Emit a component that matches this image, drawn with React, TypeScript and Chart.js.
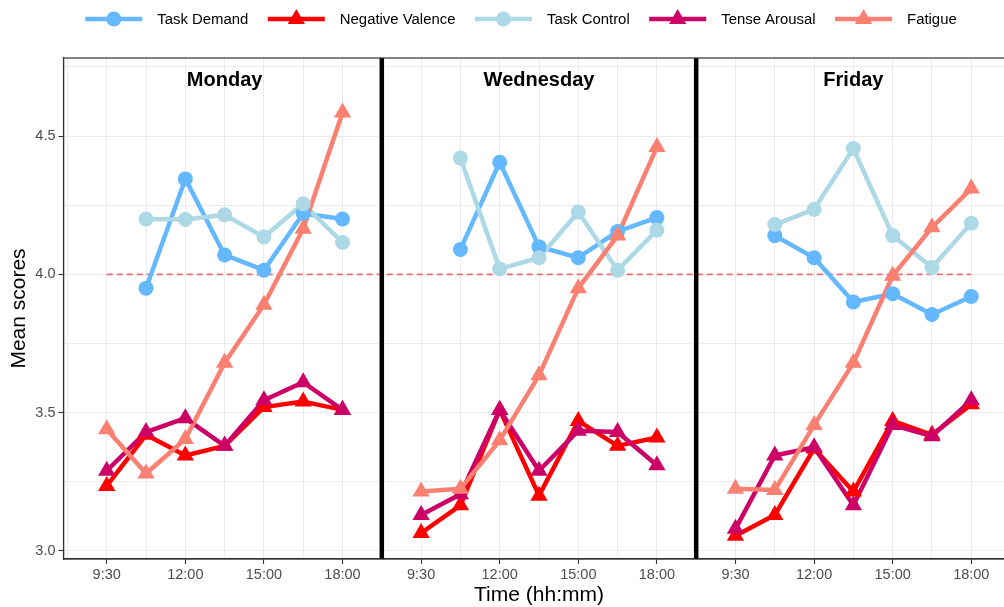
import React, { useEffect, useRef } from 'react';
import { Chart, registerables } from 'chart.js';

Chart.register(...registerables);

// Facet layout along one continuous slot axis
const days = ['Monday', 'Wednesday', 'Friday'];
const timeLabels = ['9:30', '12:00', '15:00', '18:00'];
const slotsPerDay = 7; // measurement slots per day, every other one labelled
const dayStride = 8; // one spare slot between days holds the separator

// Mean scores per day (Monday, Wednesday, Friday), one value per slot
const taskDemand = [
  [null, 3.95, 4.345, 4.07, 4.015, 4.22, 4.2],
  [null, 4.09, 4.405, 4.1, 4.06, 4.155, 4.205],
  [null, 4.14, 4.06, 3.9, 3.93, 3.855, 3.92],
];
const negativeValence = [
  [3.235, 3.42, 3.345, 3.38, 3.52, 3.54, 3.51],
  [3.065, 3.165, 3.51, 3.2, 3.47, 3.38, 3.41],
  [3.055, 3.13, 3.37, 3.215, 3.47, 3.42, 3.53],
];
const taskControl = [
  [null, 4.2, 4.198, 4.215, 4.135, 4.255, 4.115],
  [null, 4.42, 4.02, 4.06, 4.225, 4.015, 4.16],
  [null, 4.18, 4.235, 4.455, 4.14, 4.025, 4.185],
];
const tenseArousal = [
  [3.29, 3.43, 3.48, 3.38, 3.545, 3.61, 3.51],
  [3.13, 3.205, 3.51, 3.29, 3.435, 3.43, 3.31],
  [3.08, 3.345, 3.375, 3.165, 3.455, 3.415, 3.545],
];
const fatigue = [
  [3.44, 3.28, 3.405, 3.68, 3.89, 4.165, 4.585],
  [3.215, 3.225, 3.4, 3.635, 3.95, 4.14, 4.46],
  [3.225, 3.22, 3.455, 3.68, 3.995, 4.17, 4.31],
];

const referenceLevel = 4.0;
const dayTitleLevel = 4.7;
const yMin = 2.971;
const yMax = 4.782;
const yGridValues = [3.0, 3.25, 3.5, 3.75, 4.0, 4.25, 4.5, 4.75];

const FONT = "'Liberation Sans', Arial, Helvetica, sans-serif";

type Series = {
  label: string;
  values: (number | null)[][];
  color: string;
  shape: 'circle' | 'triangle';
  radius: number;
};

const series: Series[] = [
  { label: 'Task Demand', values: taskDemand, color: '#63B8FF', shape: 'circle', radius: 7.5 },
  { label: 'Negative Valence', values: negativeValence, color: '#FF0000', shape: 'triangle', radius: 10 },
  { label: 'Task Control', values: taskControl, color: '#ADD8E6', shape: 'circle', radius: 7.5 },
  { label: 'Tense Arousal', values: tenseArousal, color: '#CC0066', shape: 'triangle', radius: 10 },
  { label: 'Fatigue', values: fatigue, color: '#FA8072', shape: 'triangle', radius: 10 },
];

function toPoints(values: (number | null)[][]) {
  const pts: { x: number; y: number | null }[] = [];
  values.forEach((day, d) => {
    day.forEach((v, s) => pts.push({ x: d * dayStride + s, y: v }));
    if (d < values.length - 1) pts.push({ x: d * dayStride + slotsPerDay, y: null });
  });
  return pts;
}

function slotInfo(i: number) {
  if (i < 0) return null;
  const d = Math.floor(i / dayStride);
  if (d >= days.length) return null;
  const s = i - d * dayStride;
  if (s >= slotsPerDay) return null;
  return { d, s };
}

function labelForSlot(i: number) {
  const info = slotInfo(i);
  if (!info || info.s % 2 !== 0) return '';
  return timeLabels[info.s / 2];
}

const lastSlot = (days.length - 1) * dayStride + slotsPerDay - 1;

function drawMarker(ctx: CanvasRenderingContext2D, shape: string, x: number, y: number, r: number, color: string) {
  ctx.fillStyle = color;
  ctx.beginPath();
  if (shape === 'circle') {
    ctx.arc(x, y, r, 0, Math.PI * 2);
  } else {
    for (let k = 0; k < 3; k++) {
      const a = (k * 2 * Math.PI) / 3;
      const px = x + Math.sin(a) * r;
      const py = y - Math.cos(a) * r;
      if (k === 0) ctx.moveTo(px, py);
      else ctx.lineTo(px, py);
    }
    ctx.closePath();
  }
  ctx.fill();
}

const decorations = {
  id: 'decorations',
  beforeDatasetsDraw(chart: any) {
    const { ctx, chartArea: a, scales } = chart;
    const x = scales.x;
    const y = scales.y;
    ctx.save();
    // reference line across all days
    const yr = y.getPixelForValue(referenceLevel);
    ctx.beginPath();
    ctx.setLineDash([6, 4]);
    ctx.strokeStyle = 'rgba(232, 70, 80, 0.75)';
    ctx.lineWidth = 1.6;
    ctx.moveTo(x.getPixelForValue(0), yr);
    ctx.lineTo(x.getPixelForValue(lastSlot), yr);
    ctx.stroke();
    ctx.setLineDash([]);
    // day separators
    ctx.strokeStyle = '#000000';
    ctx.lineWidth = 4.5;
    for (let d = 1; d < days.length; d++) {
      const xs = x.getPixelForValue(d * dayStride - 1);
      ctx.beginPath();
      ctx.moveTo(xs, a.top);
      ctx.lineTo(xs, a.bottom);
      ctx.stroke();
    }
    // panel border
    ctx.strokeStyle = '#333333';
    ctx.lineWidth = 1.2;
    ctx.strokeRect(a.left, a.top, a.right - a.left, a.bottom - a.top);
    ctx.restore();
  },
  afterDraw(chart: any) {
    const { ctx, scales, width } = chart;
    const x = scales.x;
    const y = scales.y;
    ctx.save();
    // day titles
    ctx.fillStyle = '#000000';
    ctx.font = `bold 20px ${FONT}`;
    ctx.textAlign = 'center';
    ctx.textBaseline = 'middle';
    days.forEach((name, d) => {
      const xc = x.getPixelForValue(d * dayStride + (slotsPerDay - 1) / 2);
      ctx.fillText(name, xc, y.getPixelForValue(dayTitleLevel));
    });

    // legend
    const keyW = 57;
    const keyGap = 15;
    const itemGap = 19.5;
    ctx.font = `14.9px ${FONT}`;
    const widths = series.map((s) => ctx.measureText(s.label).width);
    const total = widths.reduce((acc, w) => acc + keyW + keyGap + w, 0) + itemGap * (series.length - 1);
    let cx = width / 2 - total / 2;
    const ly = 19;
    series.forEach((s, i) => {
      ctx.strokeStyle = s.color;
      ctx.lineWidth = 4.5;
      ctx.beginPath();
      ctx.moveTo(cx, ly);
      ctx.lineTo(cx + keyW, ly);
      ctx.stroke();
      drawMarker(ctx, s.shape, cx + keyW / 2, ly, s.radius, s.color);
      ctx.fillStyle = '#000000';
      ctx.textAlign = 'left';
      ctx.textBaseline = 'middle';
      ctx.fillText(s.label, cx + keyW + keyGap, ly + 1);
      cx += keyW + keyGap + widths[i] + itemGap;
    });
    ctx.restore();
  },
};

export default function App() {
  const canvasRef = useRef<HTMLCanvasElement | null>(null);

  useEffect(() => {
    if (!canvasRef.current) return;
    const n = series.length;
    const lineSets = series.map((s, i) => ({
      label: s.label,
      data: toPoints(s.values),
      borderColor: s.color,
      backgroundColor: s.color,
      borderWidth: 4.5,
      borderJoinStyle: 'round' as const,
      pointRadius: 0,
      pointHoverRadius: 0,
      spanGaps: false,
      order: 2 * n + (n - i),
    }));
    const pointSets = series.map((s, i) => ({
      label: s.label + ' points',
      data: toPoints(s.values),
      showLine: false,
      borderColor: s.color,
      backgroundColor: s.color,
      pointStyle: s.shape,
      pointRadius: s.radius,
      pointHoverRadius: s.radius,
      pointBorderWidth: 0,
      order: n - i,
    }));

    const chart = new Chart(canvasRef.current, {
      type: 'line',
      data: { datasets: [...lineSets, ...pointSets] as any },
      plugins: [decorations],
      options: {
        responsive: false,
        animation: false,
        devicePixelRatio: 1,
        events: [],
        layout: { padding: { top: 58, right: 27.5, left: 0, bottom: 0 } },
        plugins: { legend: { display: false }, tooltip: { enabled: false } },
        scales: {
          x: {
            type: 'linear',
            min: -1.1,
            max: lastSlot + 1.1,
            afterBuildTicks: (axis: any) => {
              const ticks = [];
              for (let i = Math.ceil(axis.min); i <= Math.floor(axis.max); i++) ticks.push({ value: i });
              axis.ticks = ticks;
            },
            afterFit: (axis: any) => {
              axis.height = 48;
            },
            ticks: {
              autoSkip: false,
              maxRotation: 0,
              minRotation: 0,
              padding: 2,
              color: '#4D4D4D',
              font: { family: FONT, size: 14.5 },
              callback: (v: any) => labelForSlot(Number(v)),
            },
            grid: {
              color: '#EBEBEB',
              lineWidth: 1,
              tickLength: 5,
              tickWidth: 1.1,
              tickColor: (c: any) => (labelForSlot(c.tick ? c.tick.value : NaN) ? '#333333' : 'rgba(0,0,0,0)'),
            },
            border: { color: '#333333', width: 1.2 },
            title: {
              display: true,
              text: 'Time (hh:mm)',
              color: '#000000',
              font: { family: FONT, size: 21 },
              padding: { top: 0, bottom: -1 },
            },
          },
          y: {
            type: 'linear',
            min: yMin,
            max: yMax,
            afterBuildTicks: (axis: any) => {
              axis.ticks = yGridValues.map((v) => ({ value: v }));
            },
            afterFit: (axis: any) => {
              axis.width = 63.5;
            },
            ticks: {
              padding: 3,
              color: '#4D4D4D',
              font: { family: FONT, size: 14.5 },
              callback: (v: any) => (Math.abs(Number(v) * 2 - Math.round(Number(v) * 2)) < 1e-6 ? Number(v).toFixed(1) : ''),
            },
            grid: {
              color: '#EBEBEB',
              lineWidth: 1,
              tickLength: 5,
              tickWidth: 1.1,
              tickColor: (c: any) => {
                const v = c.tick ? c.tick.value : NaN;
                return Math.abs(v * 2 - Math.round(v * 2)) < 1e-6 ? '#333333' : 'rgba(0,0,0,0)';
              },
            },
            border: { color: '#333333', width: 1.2 },
            title: {
              display: true,
              text: 'Mean scores',
              color: '#000000',
              font: { family: FONT, size: 21 },
              padding: { top: 7, bottom: 0 },
            },
          },
        },
      },
    });
    return () => chart.destroy();
  }, []);

  return (
    <div
      style={{
        position: 'absolute',
        left: 0,
        top: 0,
        width: 1004,
        height: 607,
        overflow: 'hidden',
        background: '#ffffff',
      }}
    >
      <canvas ref={canvasRef} width={1042} height={607} style={{ display: 'block' }} />
    </div>
  );
}
